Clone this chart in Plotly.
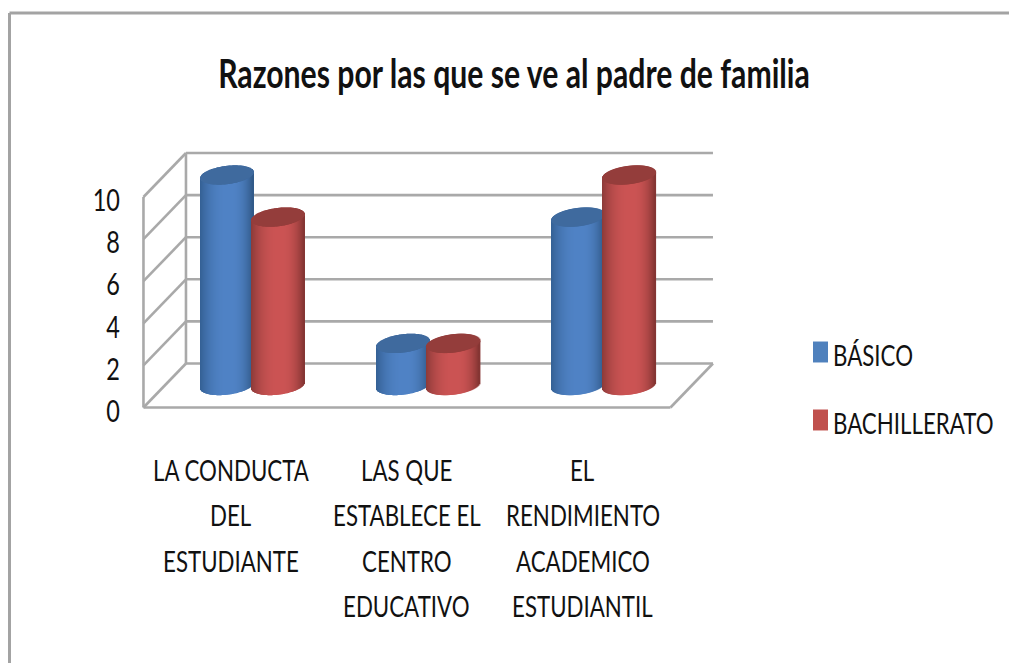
import numpy as np
import plotly.graph_objects as go

# ---- data ----
TITLE = "Razones por las que se ve al padre de familia"
CATEGORIES = ["LA CONDUCTA<br>DEL<br>ESTUDIANTE",
              "LAS QUE<br>ESTABLECE EL<br>CENTRO<br>EDUCATIVO",
              "EL<br>RENDIMIENTO<br>ACADEMICO<br>ESTUDIANTIL"]
BASICO = [10, 2, 8]
BACHILLERATO = [8, 2, 10]
Y_TICKS = [0, 2, 4, 6, 8, 10]

# ---- geometry: the plot fills the page, axes are scaled in pixels per unit ----
W, H = 1009, 663
PX_CAT, X0 = 175.67, 231.3     # px per category, px of first category on the front edge
PX_VAL, Y0 = 21.05, 407.5      # px per value unit, px of value 0 on the front edge
DEPTH_X, DEPTH_Y = 42.5 / PX_CAT, 44.0 / PX_VAL
GREY = "#a9a9a9"
FONT = "Lato, Carlito, sans-serif"
xr = [(0 - X0) / PX_CAT, (W - X0) / PX_CAT]
yr = [(Y0 - H) / PX_VAL, Y0 / PX_VAL]


def shade(edge_l, peak, edge_r, t):
    a = np.array(edge_l if t < 0.1 else edge_r, float)
    b = np.array(peak, float)
    f = 1 - (abs(t - 0.1) / (1.1 if t < 0.1 else 0.9)) ** 2.4
    c = a + (b - a) * f
    return "rgb(%d,%d,%d)" % tuple(c)


def cylinders(values, name, side, palette, cap):
    """Vertical 1 px strips for the body of each cylinder and for its elliptic top."""
    xs, base, h, col = [], [], [], []
    rx, ry, sh = 26.5 / PX_CAT, 9.2 / PX_VAL, 3.0 / PX_VAL
    for i, v in enumerate(values):
        cx = i + DEPTH_X / 2 + side * 25.4 / PX_CAT
        y0 = DEPTH_Y / 2
        n = 53
        for k in range(n):
            t = -1 + 2 * (k + 0.5) / n
            d = ry * np.sqrt(1 - t * t)
            xs.append(cx + t * rx)
            base.append(y0 - d + sh * t)
            h.append(v + d)
            col.append(shade(*palette, t))
        for k in range(n):
            t = -1 + 2 * (k + 0.5) / n
            d = ry * np.sqrt(1 - t * t)
            xs.append(cx + t * rx)
            base.append(y0 + v + sh * t - d)
            h.append(2 * d)
            col.append(cap)
    return go.Bar(x=xs, y=h, base=base, width=1.6 / PX_CAT, name=name,
                  marker=dict(color=col, line=dict(width=0)),
                  showlegend=False, hoverinfo="skip")


fig = go.Figure()
fig.add_trace(cylinders(BASICO, "BÁSICO", -1,
                        [(52, 96, 148), (80, 131, 198), (48, 88, 134)], "#3f6a9e"))
fig.add_trace(cylinders(BACHILLERATO, "BACHILLERATO", 1,
                        [(140, 58, 56), (204, 84, 84), (130, 52, 50)], "#943d3b"))
# legend keys
fig.add_trace(go.Scatter(x=[None], y=[None], mode="markers", name="BÁSICO", legendgroup="a",
                         marker=dict(symbol="square", size=16, color="#4f81bd")))
fig.add_trace(go.Scatter(x=[None], y=[None], mode="markers", name="BACHILLERATO", legendgroup="b",
                         marker=dict(symbol="square", size=16, color="#c0504d")))

# walls and floor, from the value scale
x_l, x_r = -0.5, 2.5
shapes = []


def seg(x0, y0, x1, y1):
    shapes.append(dict(type="line", xref="x", yref="y", x0=x0, y0=y0, x1=x1, y1=y1,
                       layer="below", line=dict(color=GREY, width=2.6)))


for v in Y_TICKS:
    seg(x_l, v, x_l + DEPTH_X, v + DEPTH_Y)
    seg(x_l + DEPTH_X, v + DEPTH_Y, x_r + DEPTH_X, v + DEPTH_Y)
seg(x_l, 0, x_l, Y_TICKS[-1])
seg(x_l + DEPTH_X, DEPTH_Y, x_l + DEPTH_X, Y_TICKS[-1] + DEPTH_Y)
seg(x_l, 0, x_r, 0)
seg(x_r, 0, x_r + DEPTH_X, DEPTH_Y)
# outer frame of the picture
for x0, y0, x1, y1 in [(9.5, 13, W, 13), (9.5, 13, 9.5, H)]:
    shapes.append(dict(type="line", xref="paper", yref="paper",
                       x0=x0 / W, x1=x1 / W, y0=1 - y0 / H, y1=1 - y1 / H,
                       layer="below", line=dict(color="#a3a3a3", width=3)))

# category labels, one annotation per line
annotations = []
LINE_PX, FIRST_PX = 45.5, 469
for i, cat in enumerate(CATEGORIES):
    for j, line in enumerate(cat.split("<br>")):
        annotations.append(dict(x=i, xref="x", y=1 - (FIRST_PX + j * LINE_PX) / H, yref="paper",
                                text=line, showarrow=False, xanchor="center", yanchor="middle",
                                font=dict(family=FONT, size=22.3, color="#111111")))

fig.update_layout(
    width=W, height=H, margin=dict(l=0, r=0, t=0, b=0), autosize=False,
    paper_bgcolor="white", plot_bgcolor="white", barmode="overlay",
    title=dict(text=TITLE, x=514 / W, xanchor="center", y=1 - 73.5 / H, yanchor="middle",
               font=dict(family=FONT, size=30.2, color="#111111", weight="bold")),
    xaxis=dict(range=xr, visible=False, fixedrange=True),
    yaxis=dict(range=yr, anchor="free", position=120 / W, tickvals=Y_TICKS, showgrid=False,
               zeroline=False, showline=False, ticks="", fixedrange=True, automargin=False,
               ticklabelposition="outside", ticklabelshift=3,
               tickfont=dict(family=FONT, size=23.5, color="#111111")),
    legend=dict(x=793 / W, xanchor="left", y=1 - 389 / H, yanchor="middle",
                tracegroupgap=36, font=dict(family=FONT, size=22.3, color="#111111"),
                bgcolor="rgba(0,0,0,0)"),
    shapes=shapes, annotations=annotations,
)

# The reference is a vertically stretched picture: stretch the text likewise, around its centre.
POST = """
document.body.style.margin = '0';
document.querySelectorAll('.main-svg text').forEach(function (t) {
  var b = t.getBBox(), cy = b.y + b.height / 2, old = t.getAttribute('transform') || '';
  t.setAttribute('transform', old + ' translate(0,' + cy + ') scale(1,1.33) translate(0,' + (-cy) + ')');
});
document.querySelectorAll('.legendpoints path').forEach(function (p) {
  p.setAttribute('transform', 'translate(7.5,-3) ' + (p.getAttribute('transform') || '') + ' scale(0.94,1.31)');
});
"""
fig.write_html("out.html", config=dict(displayModeBar=False), post_script=POST)
